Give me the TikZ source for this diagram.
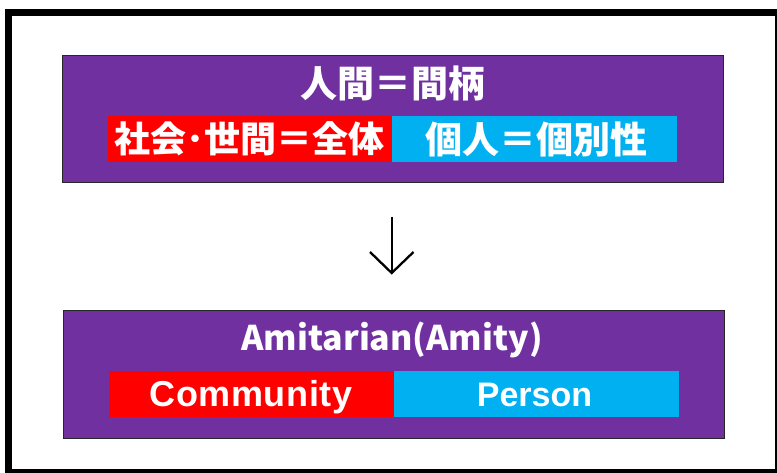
\documentclass[tikz,border=0pt]{standalone}
\usepackage{fontspec}
\newfontfamily\cjk{Noto Sans CJK JP}
\newfontfamily\latinb{Liberation Sans}
\definecolor{purp}{HTML}{7030A0}
\definecolor{redc}{HTML}{FF0000}
\definecolor{bluec}{HTML}{00B0F0}
\tikzset{
  panel/.style={fill=purp, draw=black!85, line width=1pt},
  wtxt/.style={text=white, inner sep=0pt, anchor=center},
  btxt/.style={text=white, inner sep=0pt, anchor=base}
}
\begin{document}
\begin{tikzpicture}[x=1pt,y=-1pt]
\useasboundingbox (0,0) rectangle (777,473);
\fill[white] (0,0) rectangle (777,473);
% outer frame
\draw[line width=7pt] (8.5,13) rectangle (778,472);
% top panel
\draw[panel] (62,56) rectangle (723,183);
\fill[redc] (107.5,116) rectangle (392,162.5);
\fill[bluec] (392,116) rectangle (677,162.5);
\node[wtxt] (t1) at (393,83) {\cjk\bfseries\fontsize{37}{40}\selectfont 人間＝間柄};
\node[wtxt] (r1) at (249.5,139) {\cjk\bfseries\fontsize{36}{40}\selectfont 社会･世間＝全体};
\node[wtxt] (b1) at (536,139) {\cjk\bfseries\fontsize{37}{40}\selectfont 個人＝個別性};
% arrow
\coordinate (a1) at (391.7,217);
\coordinate (a2) at (391.7,273);
\draw[line width=2.3pt] (a1) -- (a2);
\draw[line width=2.3pt, line join=miter] (370,252) -- (a2) -- (413.5,252);
% bottom panel
\draw[panel] (63,311) rectangle (724,438);
\fill[redc] (108.5,371) rectangle (393.5,417.3);
\fill[bluec] (393.5,371) rectangle (679,417.3);
\node[btxt] (t2) at (392,350.7) {\cjk\bfseries\fontsize{34}{40}\selectfont Amitarian(Amity)};
\node[btxt] (r2) at (251,406.7) {\latinb\bfseries\fontsize{36}{40}\selectfont\addfontfeature{LetterSpace=1.5}Community};
\node[btxt] (b2) at (534.5,406.3) {\latinb\bfseries\fontsize{34}{40}\selectfont Person};
\end{tikzpicture}
\end{document}
